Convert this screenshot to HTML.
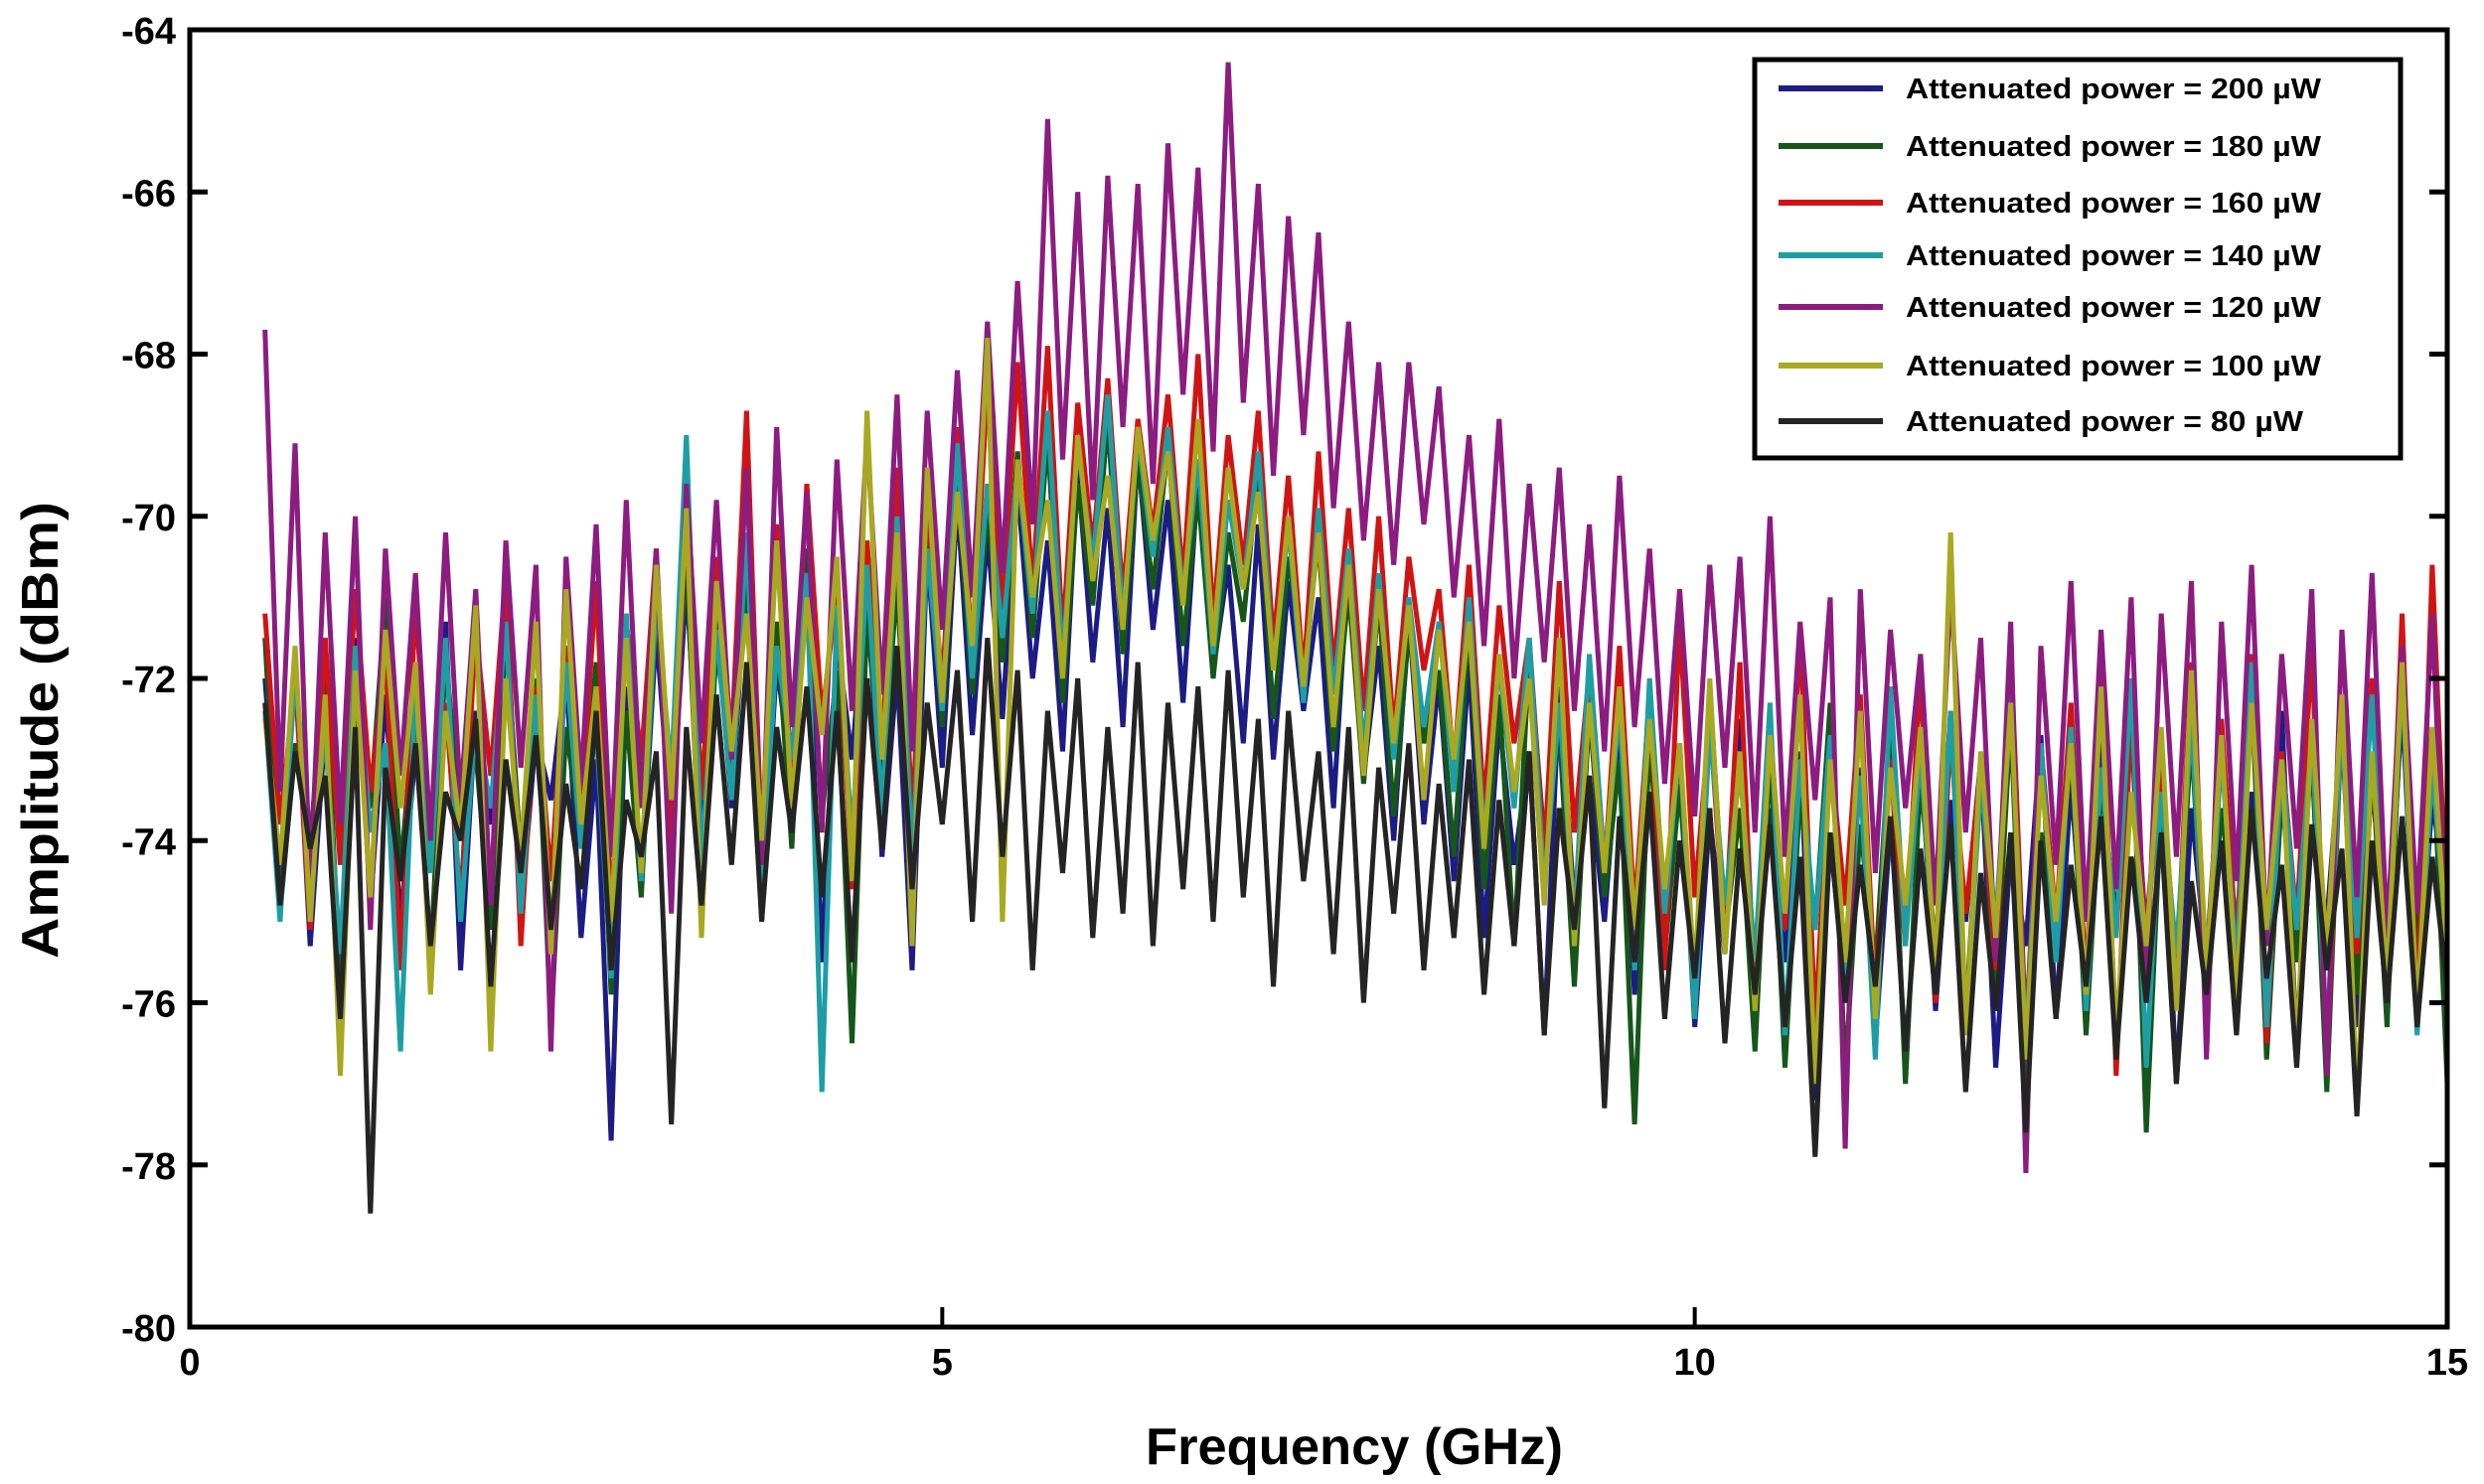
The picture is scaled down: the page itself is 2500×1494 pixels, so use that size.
<!DOCTYPE html>
<html><head><meta charset="utf-8"><style>
html,body{margin:0;padding:0;background:#fff;}
svg{display:block;}
text{font-family:"Liberation Sans",sans-serif;font-weight:bold;fill:#000;}
</style></head><body>
<svg id="chart" width="2500" height="1494" viewBox="0 0 2500 1494" xmlns="http://www.w3.org/2000/svg">
<g id="series"></g>
<rect x="191" y="30" width="2272" height="1306" fill="none" stroke="#000" stroke-width="5"/>
<g id="ticks"></g>
<text x="1363" y="1474" font-size="52" text-anchor="middle" textLength="420" lengthAdjust="spacingAndGlyphs">Frequency (GHz)</text>
<text transform="translate(58,735) rotate(-90)" font-size="52" text-anchor="middle" textLength="460" lengthAdjust="spacingAndGlyphs">Amplitude (dBm)</text>
<g id="legend">
<rect x="1766" y="60" width="650" height="401" fill="#fff" stroke="#000" stroke-width="5"/>
</g>
</svg>
<script>
const xStart = 0.5, xStep = 0.1;
const xTicks = [0, 5, 10, 15];
const yTicks = [-64, -66, -68, -70, -72, -74, -76, -78, -80];
const seriesLabels = ["Attenuated power = 200 µW","Attenuated power = 180 µW","Attenuated power = 160 µW","Attenuated power = 140 µW","Attenuated power = 120 µW","Attenuated power = 100 µW","Attenuated power = 80 µW"];
const seriesColors = ["#1c1c84","#16561a","#d01414","#1e9ea4","#8c1c80","#a8a822","#242424"];
const s200 = [-72.0,-74.5,-71.8,-75.3,-72.6,-73.9,-71.5,-74.8,-72.2,-75.0,-72.9,-74.1,-71.3,-75.6,-72.4,-73.8,-71.0,-74.9,-72.7,-73.5,-71.9,-75.2,-73.0,-77.7,-72.1,-74.6,-71.4,-73.9,-70.8,-74.0,-71.2,-73.6,-70.6,-74.9,-71.8,-73.3,-70.9,-75.5,-71.5,-73.0,-70.7,-74.2,-71.9,-75.6,-70.4,-73.1,-69.8,-72.7,-70.2,-72.5,-69.6,-72.0,-70.3,-72.9,-69.4,-71.8,-69.9,-72.6,-69.2,-71.4,-69.8,-72.3,-69.5,-71.9,-70.6,-72.8,-70.1,-73.0,-70.8,-72.4,-71.0,-73.6,-70.5,-73.2,-71.6,-74.0,-71.2,-73.8,-72.0,-74.5,-71.8,-75.2,-72.5,-74.3,-72.9,-76.4,-72.1,-74.8,-73.2,-75.0,-72.6,-75.9,-73.4,-75.1,-72.8,-76.3,-73.7,-75.4,-72.5,-76.0,-73.6,-75.5,-72.9,-77.2,-74.0,-75.8,-73.1,-76.5,-73.8,-75.2,-72.8,-76.1,-73.5,-75.0,-73.0,-76.8,-74.1,-75.3,-72.7,-76.2,-73.3,-75.7,-72.5,-76.4,-74.2,-75.1,-72.9,-77.0,-73.6,-75.5,-72.7,-76.0,-73.4,-75.3,-72.4,-76.6,-73.9,-75.0,-72.6,-76.3,-73.2,-75.6,-72.3,-76.1,-73.5,-74.8];
const s180 = [-71.5,-74.9,-72.8,-74.0,-71.9,-75.8,-72.3,-73.6,-71.0,-74.4,-72.2,-75.5,-71.7,-73.8,-72.9,-75.1,-71.4,-74.2,-72.0,-76.3,-72.6,-74.0,-71.8,-75.9,-72.4,-74.7,-71.1,-73.5,-70.5,-74.8,-71.6,-73.1,-70.9,-75.0,-71.3,-74.1,-70.4,-73.7,-71.9,-76.5,-71.2,-73.4,-70.8,-74.6,-70.0,-72.6,-69.5,-72.2,-69.9,-71.8,-69.2,-71.5,-69.0,-72.3,-69.6,-71.1,-68.8,-71.7,-69.3,-70.9,-69.1,-71.6,-69.7,-72.0,-70.2,-71.3,-69.4,-72.5,-70.5,-71.8,-70.3,-72.9,-70.9,-73.3,-71.0,-73.7,-71.4,-72.8,-71.9,-74.2,-71.3,-74.6,-72.2,-75.3,-71.7,-74.0,-72.6,-75.8,-72.4,-74.7,-73.0,-77.5,-72.7,-75.4,-73.3,-76.0,-72.1,-75.2,-73.6,-76.6,-72.9,-76.8,-73.4,-75.1,-72.3,-76.9,-73.8,-75.6,-72.6,-77.0,-73.2,-75.4,-72.4,-76.2,-73.1,-75.9,-72.5,-77.2,-73.9,-75.3,-72.8,-76.4,-73.3,-75.0,-72.2,-77.6,-73.5,-75.8,-72.7,-76.1,-73.6,-75.2,-72.1,-76.7,-73.4,-75.5,-72.9,-77.1,-72.4,-75.9,-73.0,-76.3,-71.9,-75.4,-72.6,-77.0];
const s160 = [-71.2,-73.8,-72.0,-75.1,-71.5,-74.3,-70.9,-73.4,-71.7,-75.6,-71.0,-74.0,-72.3,-74.8,-71.4,-73.2,-70.7,-75.3,-72.1,-74.5,-71.6,-73.7,-70.8,-74.9,-71.3,-73.0,-70.4,-74.2,-69.3,-73.5,-70.5,-72.8,-68.7,-74.1,-70.1,-73.3,-69.6,-72.5,-70.9,-74.6,-70.3,-72.9,-69.4,-73.8,-69.8,-72.1,-68.9,-71.7,-68.4,-71.2,-68.1,-70.9,-67.9,-71.5,-68.6,-70.4,-68.3,-71.0,-68.8,-70.2,-68.5,-70.8,-68.0,-71.3,-69.0,-70.6,-68.7,-71.6,-69.5,-72.0,-69.2,-71.9,-69.9,-72.4,-70.0,-72.7,-70.5,-71.9,-70.9,-73.1,-70.6,-73.6,-71.1,-72.8,-71.5,-74.2,-70.8,-73.9,-71.9,-74.4,-71.6,-74.9,-72.2,-75.6,-71.3,-74.7,-72.5,-75.2,-71.8,-76.0,-72.6,-75.1,-71.4,-76.3,-72.9,-74.8,-72.2,-75.9,-73.0,-75.3,-71.9,-76.0,-72.7,-74.9,-73.1,-75.6,-71.6,-76.4,-72.8,-75.0,-72.3,-75.8,-71.5,-76.9,-72.4,-75.2,-73.0,-75.7,-71.8,-76.1,-72.5,-75.3,-71.7,-76.5,-72.9,-75.0,-71.6,-76.8,-72.3,-75.4,-72.0,-75.9,-71.2,-76.2,-70.6,-75.1];
const s140 = [-72.4,-75.0,-71.9,-74.2,-72.7,-75.4,-71.6,-73.9,-72.8,-76.6,-72.1,-74.4,-71.5,-75.0,-72.5,-73.6,-71.3,-74.9,-72.2,-75.3,-71.8,-74.1,-72.6,-75.7,-71.2,-74.5,-71.0,-73.2,-69.0,-74.3,-71.4,-73.5,-70.2,-74.8,-71.6,-73.0,-70.7,-77.1,-71.1,-74.0,-70.6,-73.7,-70.0,-74.3,-70.4,-72.4,-69.1,-72.0,-69.6,-71.5,-69.4,-71.2,-68.7,-71.8,-69.1,-70.6,-68.5,-71.3,-69.0,-70.5,-68.9,-71.0,-69.3,-71.7,-69.8,-70.9,-69.2,-71.9,-70.1,-72.3,-69.9,-72.2,-70.4,-72.9,-70.7,-73.0,-71.0,-72.6,-71.3,-73.4,-71.0,-74.0,-71.8,-73.6,-71.5,-74.6,-72.3,-75.0,-71.7,-74.3,-72.4,-75.6,-72.0,-74.9,-72.8,-76.2,-72.6,-74.8,-73.1,-75.5,-72.3,-76.4,-73.0,-75.1,-72.7,-75.8,-73.2,-76.7,-72.1,-75.3,-72.9,-75.7,-72.4,-76.3,-73.3,-75.0,-72.2,-76.6,-72.8,-75.5,-72.6,-76.1,-73.1,-75.2,-72.0,-76.8,-73.4,-75.4,-72.5,-76.0,-72.9,-75.6,-71.8,-76.3,-73.0,-75.1,-72.7,-76.5,-72.4,-75.2,-72.2,-75.8,-71.9,-76.4,-73.1,-75.3];
const s120 = [-67.7,-73.4,-69.1,-74.6,-70.2,-73.8,-70.0,-75.1,-70.4,-73.2,-70.7,-74.0,-70.2,-73.5,-70.9,-74.8,-70.3,-73.1,-70.6,-76.6,-70.5,-73.3,-70.1,-74.2,-69.8,-73.6,-70.4,-74.9,-69.6,-72.8,-69.8,-73.0,-69.4,-74.3,-68.9,-72.6,-69.7,-73.9,-69.3,-72.4,-69.0,-72.2,-68.5,-72.9,-68.7,-71.4,-68.2,-71.0,-67.6,-70.7,-67.1,-70.1,-65.1,-69.3,-66.0,-69.8,-65.8,-68.9,-65.9,-69.6,-65.4,-68.5,-65.7,-69.2,-64.4,-68.6,-65.9,-69.5,-66.3,-69.0,-66.5,-69.9,-67.6,-70.3,-68.1,-70.6,-68.1,-70.1,-68.4,-71.0,-69.0,-71.6,-68.8,-72.0,-69.6,-71.8,-69.4,-72.4,-70.1,-72.9,-69.5,-72.6,-70.4,-73.3,-70.9,-73.7,-70.6,-73.1,-70.5,-73.9,-70.0,-74.2,-71.3,-73.5,-71.0,-77.8,-70.9,-74.4,-71.4,-73.6,-71.7,-74.8,-70.9,-73.9,-71.5,-75.5,-71.3,-78.1,-71.6,-74.3,-70.8,-75.0,-71.4,-74.6,-71.0,-75.9,-71.2,-74.2,-70.8,-76.7,-71.3,-74.5,-70.6,-75.3,-71.7,-74.1,-70.9,-76.9,-71.4,-74.7,-70.7,-75.2,-71.6,-74.9,-71.2,-75.6];
const s100 = [-72.5,-74.3,-71.6,-75.0,-72.2,-76.9,-71.9,-74.7,-71.4,-73.6,-71.8,-75.9,-72.4,-73.9,-71.1,-76.6,-72.0,-74.2,-71.3,-75.4,-70.9,-73.8,-72.1,-75.0,-71.5,-74.4,-70.6,-73.5,-69.9,-75.2,-70.8,-72.9,-71.2,-74.0,-70.3,-73.6,-71.0,-72.7,-70.5,-74.5,-68.7,-73.0,-70.2,-75.3,-69.4,-72.3,-69.7,-71.6,-67.8,-75.0,-69.3,-71.0,-69.8,-72.0,-69.0,-70.8,-69.5,-71.4,-68.9,-70.3,-69.2,-71.1,-68.8,-71.6,-69.4,-70.9,-69.7,-71.9,-70.0,-72.1,-70.2,-72.6,-70.6,-73.2,-70.9,-72.8,-71.1,-73.5,-71.4,-73.0,-71.3,-74.1,-71.7,-73.4,-72.0,-74.8,-71.5,-75.3,-72.3,-74.4,-72.1,-75.1,-72.5,-74.6,-72.8,-75.7,-72.0,-75.4,-72.9,-76.1,-72.7,-74.9,-72.2,-77.0,-73.0,-75.5,-72.4,-76.2,-73.1,-74.8,-72.6,-75.7,-70.2,-76.4,-72.9,-75.2,-72.3,-76.7,-73.2,-75.0,-72.8,-75.9,-72.1,-76.5,-73.4,-75.3,-72.6,-76.1,-71.9,-75.6,-72.7,-76.0,-72.3,-75.1,-73.0,-76.6,-72.5,-75.4,-72.2,-77.3,-72.9,-75.8,-71.8,-76.2,-72.6,-75.5];
const s80 = [-72.3,-74.8,-72.9,-74.1,-73.2,-76.2,-72.6,-78.6,-73.1,-74.5,-72.8,-75.3,-73.4,-74.0,-72.5,-75.8,-73.0,-74.4,-72.7,-75.1,-73.3,-74.6,-72.4,-75.6,-73.5,-74.2,-72.9,-77.5,-72.6,-74.8,-72.2,-74.3,-71.8,-75.0,-72.6,-73.9,-72.1,-74.7,-72.4,-75.5,-72.0,-74.1,-71.6,-74.6,-72.3,-73.8,-71.9,-75.0,-71.5,-74.2,-71.9,-75.6,-72.4,-74.4,-72.0,-75.2,-72.6,-74.9,-71.8,-75.3,-72.3,-74.6,-72.1,-75.0,-71.9,-74.7,-72.5,-75.8,-72.4,-74.5,-72.9,-75.4,-72.6,-76.0,-73.1,-74.9,-72.8,-75.6,-73.3,-75.2,-73.0,-75.9,-73.5,-75.3,-72.9,-76.4,-73.6,-75.1,-73.2,-77.3,-73.7,-75.5,-73.4,-76.2,-74.0,-75.7,-73.6,-76.5,-74.1,-75.9,-73.8,-76.3,-74.2,-77.9,-73.9,-76.0,-74.3,-75.8,-73.7,-76.6,-74.1,-75.9,-73.8,-77.1,-74.4,-76.1,-73.9,-77.6,-74.0,-76.2,-74.3,-75.8,-73.7,-76.7,-74.2,-76.0,-73.9,-77.0,-74.5,-75.9,-74.0,-76.4,-73.6,-75.7,-74.3,-76.8,-73.8,-75.6,-74.1,-77.4,-74.0,-76.0,-73.7,-76.3,-74.2,-75.8];
const allSeries = [s200, s180, s160, s140, s120, s100, s80];

const NS = "http://www.w3.org/2000/svg";
const L = 191, R = 2463, T = 30, B = 1336;
function xScale(v){ return L + (v - 0) / 15 * (R - L); }
function yScale(v){ return T + (-64 - v) / 16 * (B - T); }

const sg = document.getElementById('series');
allSeries.forEach((arr, k) => {
  const pts = arr.map((v, i) => xScale(xStart + i * xStep).toFixed(1) + ',' + yScale(v).toFixed(1)).join(' ');
  const pl = document.createElementNS(NS, 'polyline');
  pl.setAttribute('points', pts);
  pl.setAttribute('fill', 'none');
  pl.setAttribute('stroke', seriesColors[k]);
  pl.setAttribute('stroke-width', '5');
  pl.setAttribute('stroke-linejoin', 'miter');
  
  
  sg.appendChild(pl);
});

const tg = document.getElementById('ticks');
yTicks.forEach(v => {
  const y = yScale(v);
  [[L, L + 18], [R, R - 18]].forEach(p => {
    const ln = document.createElementNS(NS, 'line');
    ln.setAttribute('x1', p[0]); ln.setAttribute('x2', p[1]);
    ln.setAttribute('y1', y); ln.setAttribute('y2', y);
    ln.setAttribute('stroke', '#000'); ln.setAttribute('stroke-width', '5');
    
    
    tg.appendChild(ln);
  });
  const t = document.createElementNS(NS, 'text');
  t.setAttribute('x', L - 14); t.setAttribute('y', y + 14);
  t.setAttribute('text-anchor', 'end'); t.setAttribute('font-size', '38');
  t.textContent = String(v);
  
  
  tg.appendChild(t);
});
xTicks.forEach(v => {
  const x = xScale(v);
  const ln = document.createElementNS(NS, 'line');
  ln.setAttribute('x1', x); ln.setAttribute('x2', x);
  ln.setAttribute('y1', B); ln.setAttribute('y2', B - 20);
  ln.setAttribute('stroke', '#000'); ln.setAttribute('stroke-width', '4');
  
  
  tg.appendChild(ln);
  const t = document.createElementNS(NS, 'text');
  t.setAttribute('x', x); t.setAttribute('y', B + 48);
  t.setAttribute('text-anchor', 'middle'); t.setAttribute('font-size', '38');
  t.textContent = String(v);
  
  
  tg.appendChild(t);
});

const lg = document.getElementById('legend');
const rowY = [89, 147, 204, 257, 309, 368, 424];
seriesLabels.forEach((lab, k) => {
  const ln = document.createElementNS(NS, 'line');
  ln.setAttribute('x1', 1790); ln.setAttribute('x2', 1895);
  ln.setAttribute('y1', rowY[k]); ln.setAttribute('y2', rowY[k]);
  ln.setAttribute('stroke', seriesColors[k]); ln.setAttribute('stroke-width', '6');
  
  
  lg.appendChild(ln);
  const t = document.createElementNS(NS, 'text');
  t.setAttribute('x', 1918); t.setAttribute('y', rowY[k] + 10);
  t.setAttribute('font-size', '29');
  t.setAttribute('textLength', k === 6 ? '400' : '418');
  t.setAttribute('lengthAdjust', 'spacingAndGlyphs');
  t.textContent = lab;
  
  
  lg.appendChild(t);
});
</script>
</body></html>
